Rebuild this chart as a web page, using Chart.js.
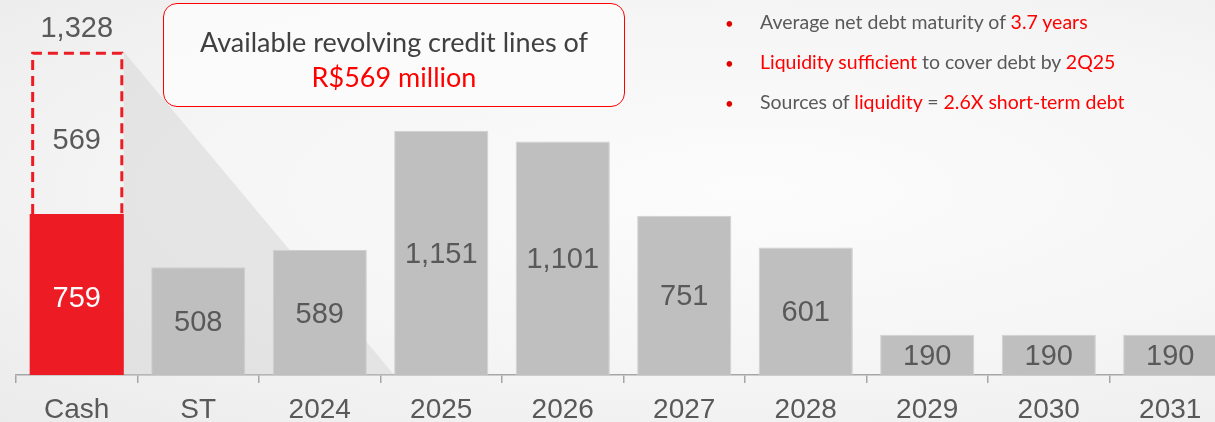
<!DOCTYPE html>
<html lang="en">
<head>
<meta charset="UTF-8">
<title>Debt amortization schedule</title>
<script src="https://cdn.jsdelivr.net/npm/chart.js"></script>
<style>
  html, body { margin: 0; padding: 0; width: 1215px; height: 422px; overflow: hidden; }
  body {
    position: relative;
    background: radial-gradient(ellipse at 62% 45%, #fcfcfc 0%, #f5f5f5 55%, #ebebeb 100%);
    font-family: Lato, "Open Sans", sans-serif;
  }
  #wrap { position: absolute; left: 0; top: 0; width: 1231px; height: 422px; }
  .callout {
    position: absolute; left: 163px; top: 3px; width: 460px; height: 102px;
    border: 1.5px solid #ff0000; border-radius: 14px;
    background: rgba(252, 252, 252, 0.85);
    text-align: center; font-size: 27px; line-height: 35px; color: #404040;
  }
  .callout .l1 { margin-top: 20px; }
  .red { color: #ff0000; }
  .bullets { position: absolute; left: 722px; top: 0; font-size: 19.5px; color: #595959; }
  .bullets div { position: absolute; left: 0; white-space: nowrap; height: 40px; line-height: 40px; }
  .bullets .dot { color: #e00000; display: inline-block; width: 35px; padding-left: 3px; font-size: 15px; }
</style>
</head>
<body>
<div id="wrap"><canvas id="debtChart" width="1231" height="422"></canvas></div>

<div class="callout">
  <div class="l1">Available revolving credit lines of</div>
  <div class="red">R$569 million</div>
</div>

<div class="bullets">
  <div style="top:2px"><span class="dot">•</span>Average net debt maturity of <span class="red">3.7 years</span></div>
  <div style="top:42px"><span class="dot">•</span><span class="red">Liquidity sufficient</span> to cover debt by <span class="red">2Q25</span></div>
  <div style="top:82px"><span class="dot">•</span>Sources of <span class="red">liquidity</span> = <span class="red">2.6X short-term debt</span></div>
</div>

<script>
var categories = ['Cash', 'ST', '2024', '2025', '2026', '2027', '2028', '2029', '2030', '2031'];
var cash = [759, null, null, null, null, null, null, null, null, null];
var debt = [null, 508, 589, 1151, 1101, 751, 601, 190, 190, 190];
var creditLines = [569, null, null, null, null, null, null, null, null, null];
var totalLiquidity = [1328, null, null, null, null, null, null, null, null, null];
// the slide draws the credit line box as tall as the cash bar, not to scale
var creditBoxDrawn = [765, null, null, null, null, null, null, null, null, null];

var RED = '#ed1c24';
var GREY = '#bfbfbf';
var TEXT = '#595959';
var FONT = '"Liberation Sans", Arial, sans-serif';

function fmt(v) { return v.toLocaleString('en-US'); }

var decor = {
    id: 'decor',
    beforeDatasetsDraw: function(chart) {
        var ctx = chart.ctx;
        var box = chart.getDatasetMeta(2).data[0];
        var cashBar = chart.getDatasetMeta(0).data[0];
        var bar25 = chart.getDatasetMeta(1).data[3];
        var right = box.x + box.width / 2;
        ctx.save();
        ctx.fillStyle = 'rgba(205, 205, 205, 0.4)';
        ctx.beginPath();
        ctx.moveTo(right, box.y);
        ctx.lineTo(bar25.x - bar25.width / 2, bar25.base);
        ctx.lineTo(right, cashBar.base);
        ctx.closePath();
        ctx.fill();
        ctx.restore();
    },
    afterDatasetsDraw: function(chart) {
        var ctx = chart.ctx;
        ctx.save();
        // dashed credit line box
        var box = chart.getDatasetMeta(2).data[0];
        var l = box.x - box.width / 2 + 3, r = box.x + box.width / 2 - 2;
        ctx.strokeStyle = RED;
        ctx.lineWidth = 3;
        ctx.setLineDash([10, 6]);
        ctx.beginPath();
        ctx.moveTo(l, box.base);
        ctx.lineTo(l, box.y + 1.5);
        ctx.lineTo(r, box.y + 1.5);
        ctx.lineTo(r, box.base);
        ctx.stroke();
        ctx.setLineDash([]);

        ctx.font = '29px ' + FONT;
        ctx.textAlign = 'center';
        ctx.textBaseline = 'middle';
        // values inside bars
        chart.getDatasetMeta(0).data.forEach(function(el, i) {
            if (cash[i] == null) return;
            ctx.fillStyle = '#ffffff';
            ctx.fillText(fmt(cash[i]), el.x, (el.y + el.base) / 2 + 4);
        });
        chart.getDatasetMeta(1).data.forEach(function(el, i) {
            if (debt[i] == null) return;
            ctx.fillStyle = TEXT;
            ctx.fillText(fmt(debt[i]), el.x, (el.y + el.base) / 2 + 2);
        });
        chart.getDatasetMeta(2).data.forEach(function(el, i) {
            if (creditLines[i] == null) return;
            ctx.fillStyle = TEXT;
            ctx.fillText(fmt(creditLines[i]), el.x, (el.y + el.base) / 2 + 8);
            ctx.fillText(fmt(totalLiquidity[i]), el.x, el.y - 23);
        });
        ctx.restore();
    }
};

new Chart(document.getElementById('debtChart'), {
    type: 'bar',
    data: {
        labels: categories,
        datasets: [
            { label: 'Cash', data: cash, backgroundColor: RED },
            { label: 'Debt', data: debt, backgroundColor: GREY, borderColor: '#cfcfcf', borderWidth: 1 },
            { label: 'Credit lines', data: creditBoxDrawn, backgroundColor: 'rgba(0,0,0,0)' }
        ]
    },
    options: {
        responsive: false,
        animation: false,
        layout: { padding: { left: 16, right: 0, top: 0, bottom: 0 } },
        datasets: { bar: { categoryPercentage: 1, barPercentage: 0.775 } },
        plugins: { legend: { display: false }, tooltip: { enabled: false } },
        scales: {
            x: {
                stacked: true,
                afterFit: function(scale) { scale.height = 47; },
                border: { color: '#a6a6a6', width: 1.5 },
                grid: { drawOnChartArea: false, color: '#a6a6a6', lineWidth: 1.5, tickLength: 8 },
                ticks: { color: TEXT, font: { family: FONT, size: 28 }, padding: 10 }
            },
            y: { stacked: true, display: false, min: 0, max: 1768 }
        }
    },
    plugins: [decor]
});
</script>
</body>
</html>
